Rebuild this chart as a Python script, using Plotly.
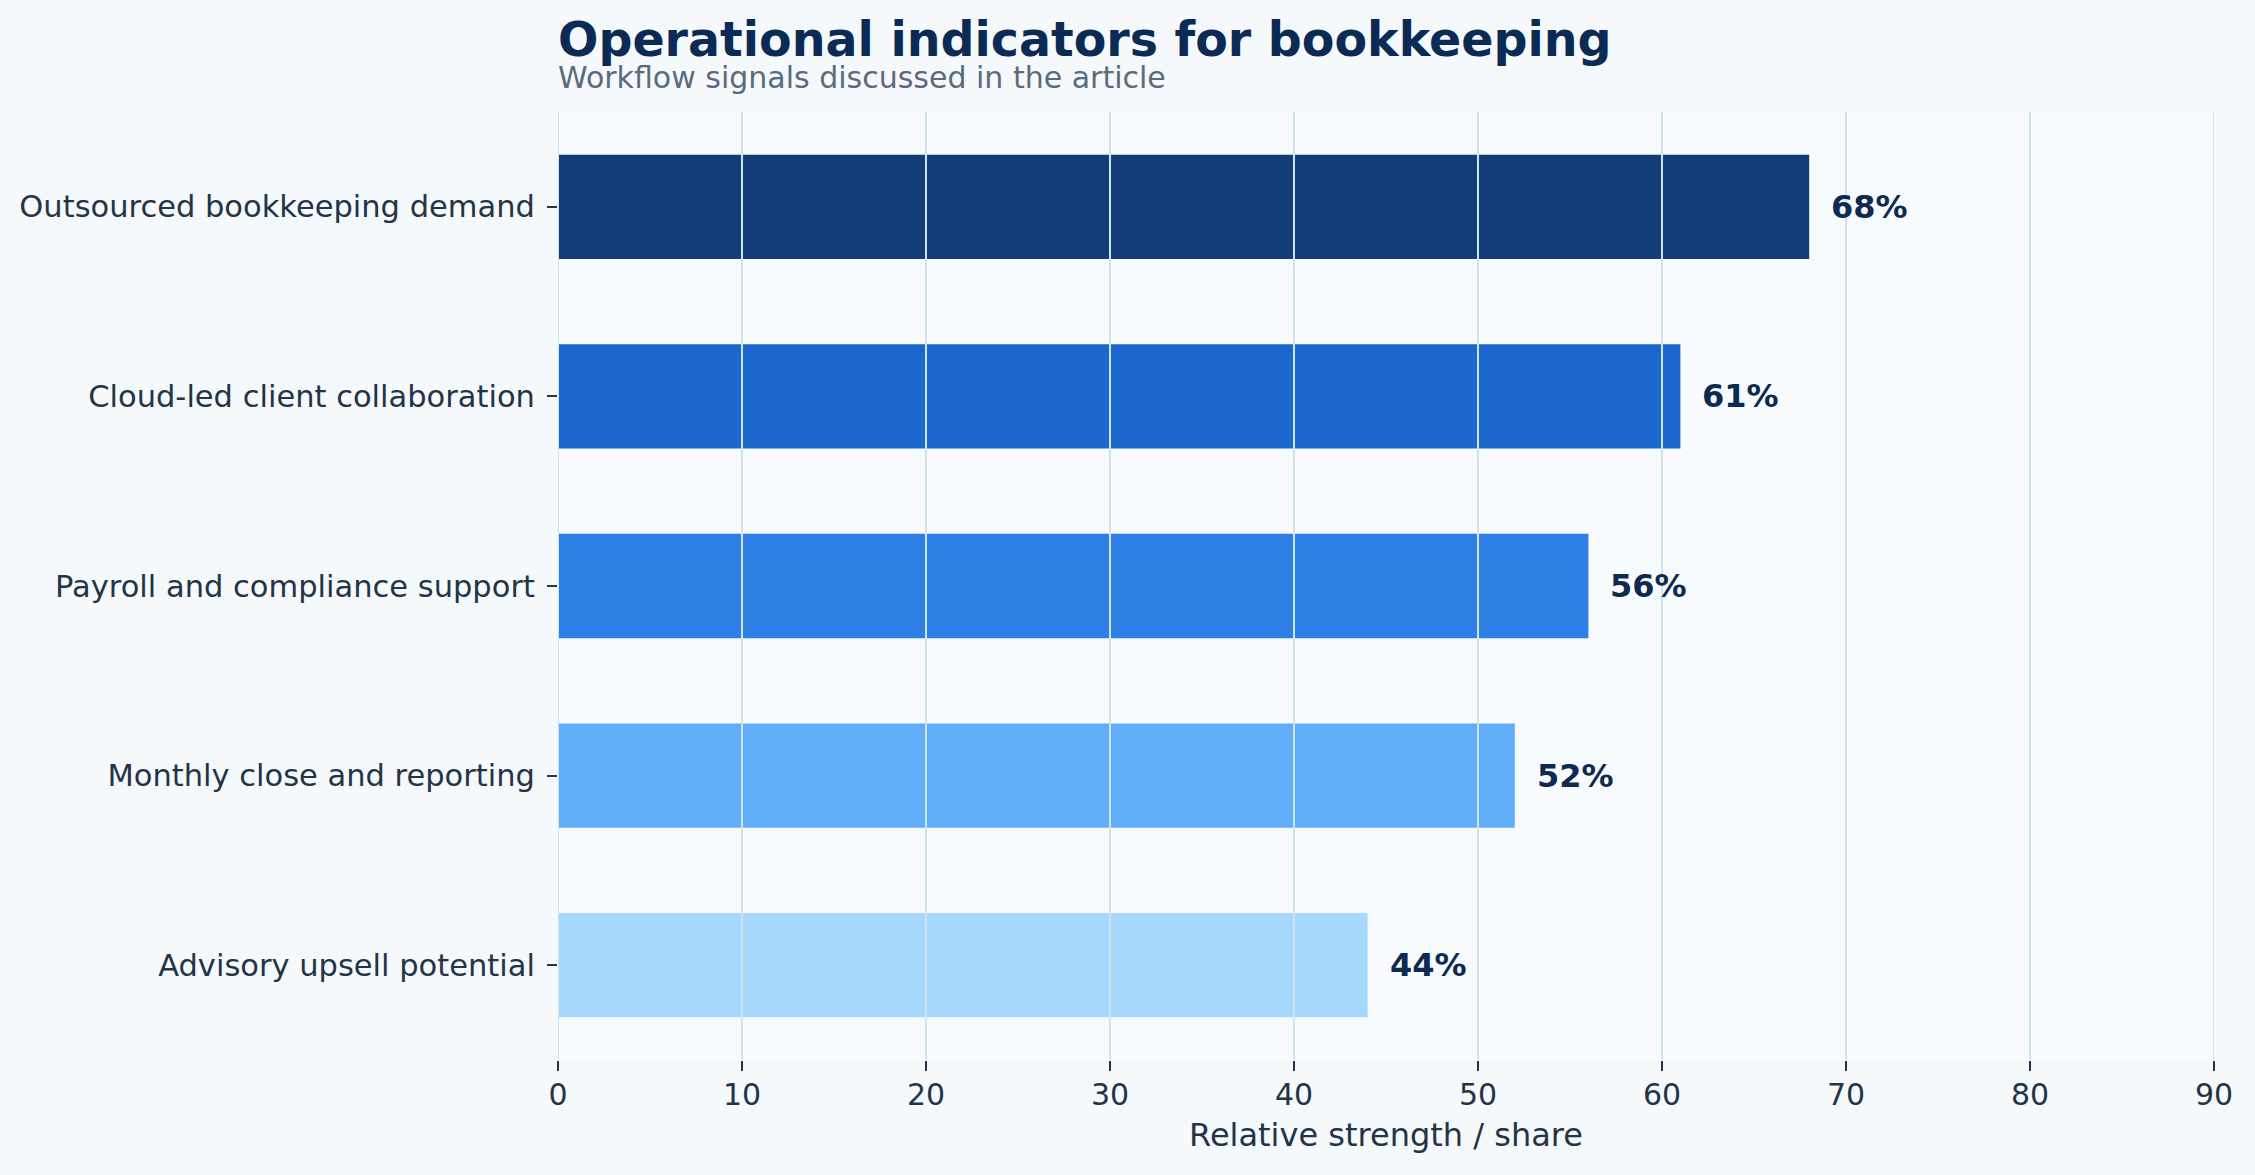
import plotly.graph_objects as go

# indicators, listed top to bottom as in the chart
indicators = [
    "Outsourced bookkeeping demand",
    "Cloud-led client collaboration",
    "Payroll and compliance support",
    "Monthly close and reporting",
    "Advisory upsell potential",
]
strength = [68, 61, 56, 52, 44]
bar_colors = ["#143c78", "#1b67cf", "#2e7fe6", "#62adf7", "#a6d8fd"]
x_ticks = [0, 10, 20, 30, 40, 50, 60, 70, 80, 90]

font_family = "DejaVu Sans"
text_dark = "#243447"

fig = go.Figure()
fig.add_trace(go.Bar(
    x=strength,
    y=indicators,
    orientation="h",
    width=0.55,
    marker=dict(color=bar_colors, line=dict(width=0)),
    hoverinfo="skip",
))

# value labels just past the end of each bar
for name, val in zip(indicators, strength):
    fig.add_annotation(
        x=val, y=name, text=f"<b>{val}%</b>",
        xanchor="left", yanchor="middle", xshift=20, showarrow=False,
        font=dict(family=font_family, size=32, color="#0f2a50"),
    )

# vertical grid drawn over the bars
for t in x_ticks:
    fig.add_shape(
        type="line", xref="x", yref="paper", x0=t, x1=t, y0=0, y1=1,
        line=dict(color="#d0e4ef", width=2), layer="above",
    )

# title + subtitle sit tight together like the original
fig.add_annotation(
    xref="paper", yref="paper", x=0, y=1.077, xanchor="left", yanchor="middle",
    xshift=-2, text="<b>Operational indicators for bookkeeping</b>", showarrow=False,
    font=dict(family=font_family, size=47.5, color="#0b2b55"),
)
fig.add_annotation(
    xref="paper", yref="paper", x=0, y=1.036, xanchor="left", yanchor="middle",
    xshift=-2, text="Workflow signals discussed in the article", showarrow=False,
    font=dict(family=font_family, size=30, color="#5b6b7c"),
)

fig.update_layout(
    width=2255, height=1175,
    margin=dict(l=558, r=41, t=112, b=115),
    paper_bgcolor="#f5f9fc",
    plot_bgcolor="#f7fbfe",
    showlegend=False,
    font=dict(family=font_family, size=30, color=text_dark),
)
fig.update_xaxes(
    range=[0, 90], tickvals=x_ticks, showgrid=False, zeroline=False,
    showline=False, ticks="outside", ticklen=10, tickwidth=2, tickcolor=text_dark,
    tickfont=dict(size=30, color=text_dark), ticklabelstandoff=-2,
    title=dict(text="Relative strength / share", standoff=12,
               font=dict(size=32, color=text_dark)),
)
fig.update_yaxes(
    range=[4.5, -0.5], showgrid=False, zeroline=False, showline=False,
    ticks="outside", ticklen=10, tickwidth=2, tickcolor=text_dark,
    tickfont=dict(size=30.5, color=text_dark), ticklabelstandoff=6,
)

# drop the browser's default page margin so the figure sits at 0,0
fig.write_html("out.html", config={"displayModeBar": False},
               post_script="document.body.style.margin = '0';")
